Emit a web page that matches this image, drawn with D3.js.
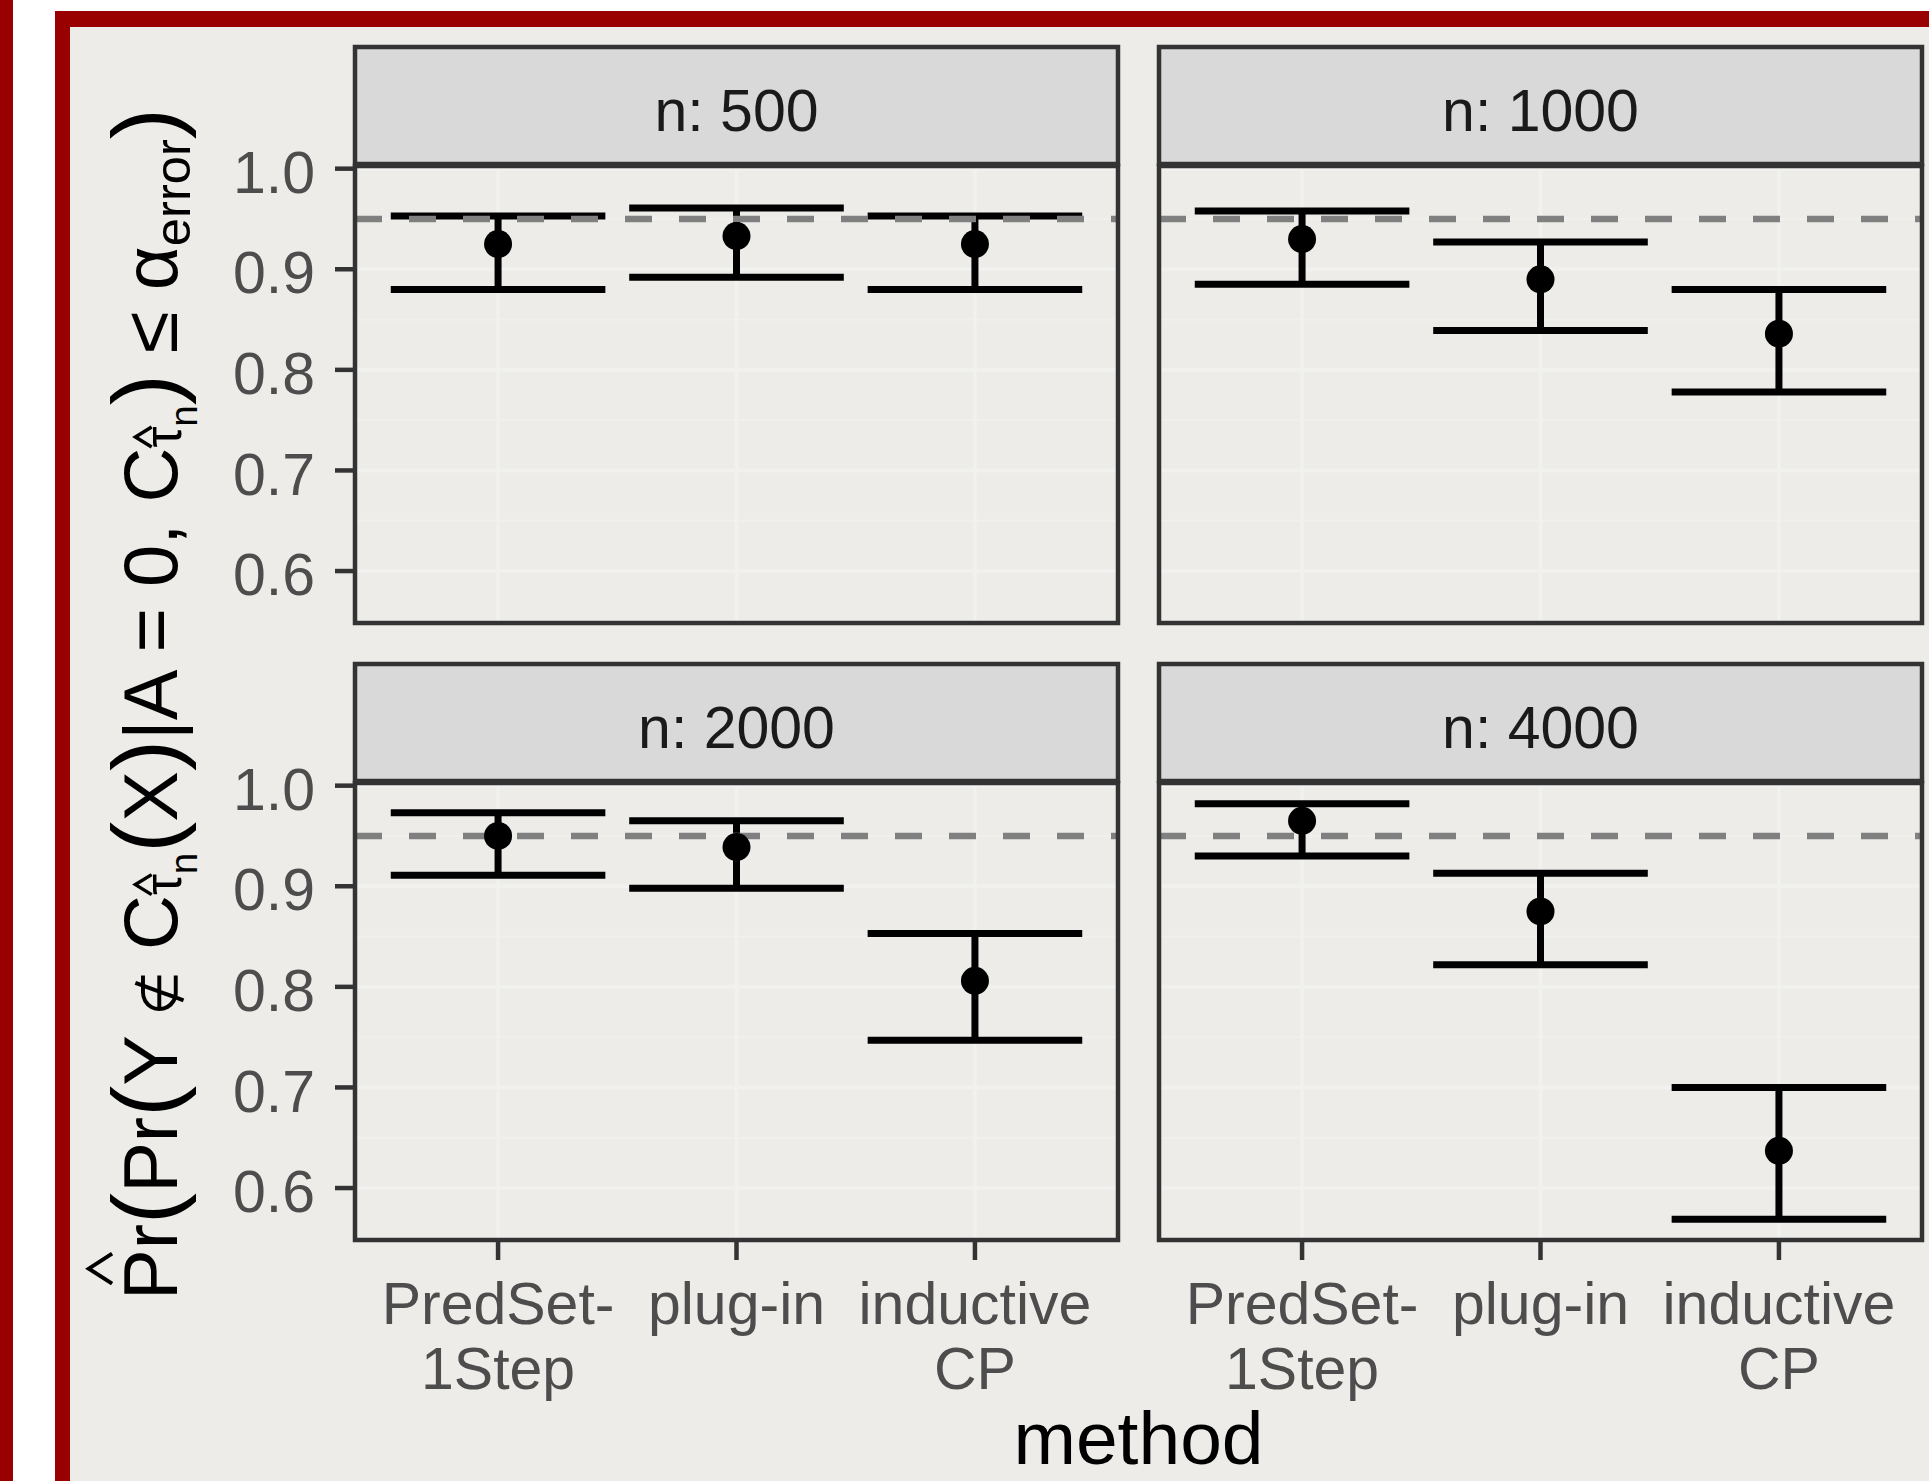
<!DOCTYPE html>
<html><head><meta charset="utf-8">
<script src="https://cdn.jsdelivr.net/npm/d3@7"></script>
<style>html,body{margin:0;padding:0;background:#fff;overflow:hidden} svg{display:block}</style>
</head><body><svg id="c" width="1929" height="1481"></svg>
<script>
// ---------------- data ----------------
const panelLabels = ["n: 500", "n: 1000", "n: 2000", "n: 4000"];
const methods = ["PredSet-1Step", "plug-in", "inductive CP"];
const methodLines = [["PredSet-", "1Step"], ["plug-in"], ["inductive", "CP"]];
const estimate = [[0.925, 0.933, 0.925], [0.930, 0.890, 0.836], [0.950, 0.939, 0.806], [0.965, 0.875, 0.637]];
const lower    = [[0.880, 0.892, 0.880], [0.885, 0.839, 0.778], [0.911, 0.898, 0.747], [0.930, 0.822, 0.569]];
const upper    = [[0.953, 0.961, 0.953], [0.958, 0.927, 0.880], [0.973, 0.965, 0.853], [0.982, 0.913, 0.700]];
const targetLevel = 0.95;
const yTicks = [0.6, 0.7, 0.8, 0.9, 1.0];
const yMinorTicks = [0.55, 0.65, 0.75, 0.85, 0.95];
const xTitle = "method";

// ---------------- layout ----------------
const F = "'Liberation Sans', Arial, Helvetica, sans-serif";
const svg = d3.select("#c");
const BG = "#EDECE8", RED = "#990000";
const colX = [355, 1159], panelW = 763;
const stripTop = [47, 664], stripH = 119, panelH = 457;
const tickFs = 59;

// frame
svg.append("rect").attr("x", 0).attr("y", 0).attr("width", 1929).attr("height", 1481).attr("fill", "#fff");
svg.append("rect").attr("x", 0).attr("y", 0).attr("width", 13).attr("height", 1481).attr("fill", RED);
svg.append("rect").attr("x", 55).attr("y", 11).attr("width", 1900).attr("height", 1500).attr("fill", RED);
svg.append("rect").attr("x", 70).attr("y", 27).attr("width", 1900).attr("height", 1500).attr("fill", BG);

// scales
const allLo = d3.min(lower.flat()), allHi = d3.max(upper.flat());
const r = allHi - allLo;
const y = d3.scaleLinear().domain([allLo - 0.05 * r, allHi + 0.05 * r]).range([panelH, 0]);
const x = d3.scalePoint().domain(methods).range([0, panelW]).padding(0.6);
const barHalf = x.step() * 0.9 / 2;

panelLabels.forEach((lab, i) => {
  const col = i % 2, row = Math.floor(i / 2);
  const px = colX[col], st = stripTop[row], py = st + stripH;
  const g = svg.append("g").attr("transform", `translate(${px},${py})`);

  // grid
  g.selectAll(".minor").data(yMinorTicks.filter(v => v >= y.domain()[0] && v <= y.domain()[1])).join("line")
    .attr("x1", 0).attr("x2", panelW).attr("y1", d => y(d)).attr("y2", d => y(d))
    .attr("stroke", "#F0F0EE").attr("stroke-width", 1.8);
  g.selectAll(".major").data(yTicks).join("line")
    .attr("x1", 0).attr("x2", panelW).attr("y1", d => y(d)).attr("y2", d => y(d))
    .attr("stroke", "#F1F1F0").attr("stroke-width", 3.5);
  g.selectAll(".vmajor").data(methods).join("line")
    .attr("x1", d => x(d)).attr("x2", d => x(d)).attr("y1", 0).attr("y2", panelH)
    .attr("stroke", "#F1F1F0").attr("stroke-width", 3.5);

  // error bars
  const rows = methods.map((m, j) => ({m, est: estimate[i][j], lo: lower[i][j], hi: upper[i][j]}));
  g.selectAll(".eb").data(rows).join("path")
    .attr("d", d => `M${x(d.m) - barHalf},${y(d.hi)}H${x(d.m) + barHalf}M${x(d.m)},${y(d.hi)}V${y(d.lo)}M${x(d.m) - barHalf},${y(d.lo)}H${x(d.m) + barHalf}`)
    .attr("fill", "none").attr("stroke", "#000").attr("stroke-width", 7);

  // reference line
  g.append("line").attr("x1", 0).attr("x2", panelW).attr("y1", y(targetLevel)).attr("y2", y(targetLevel))
    .attr("stroke", "#808080").attr("stroke-width", 6.5).attr("stroke-dasharray", "27 27");

  // points
  g.selectAll(".pt").data(rows).join("circle")
    .attr("cx", d => x(d.m)).attr("cy", d => y(d.est)).attr("r", 14).attr("fill", "#000");

  // panel border
  g.append("rect").attr("x", 0).attr("y", 0).attr("width", panelW).attr("height", panelH)
    .attr("fill", "none").attr("stroke", "#333333").attr("stroke-width", 4.5);

  // strip
  svg.append("rect").attr("x", px).attr("y", st).attr("width", panelW).attr("height", stripH - 2)
    .attr("fill", "#D9D9D9").attr("stroke", "#333333").attr("stroke-width", 4.5);
  svg.append("text").attr("x", px + panelW / 2).attr("y", st + stripH / 2 + 0.41 * tickFs)
    .attr("text-anchor", "middle").attr("font-family", F).attr("font-size", tickFs)
    .attr("fill", "#1A1A1A").text(lab);

  // y axis
  if (col === 0) {
    const ya = g.append("g");
    ya.selectAll("line").data(yTicks).join("line")
      .attr("x1", -20).attr("x2", 0).attr("y1", d => y(d)).attr("y2", d => y(d))
      .attr("stroke", "#333333").attr("stroke-width", 4.5);
    ya.selectAll("text").data(yTicks).join("text")
      .attr("x", -40).attr("y", d => y(d)).attr("dy", "0.41em")
      .attr("text-anchor", "end").attr("font-family", F).attr("font-size", tickFs)
      .attr("fill", "#4D4D4D").text(d => d3.format(".1f")(d));
  }
  // x axis
  if (row === 1) {
    const xa = g.append("g").attr("transform", `translate(0,${panelH})`);
    xa.selectAll("line").data(methods).join("line")
      .attr("x1", d => x(d)).attr("x2", d => x(d)).attr("y1", 0).attr("y2", 20)
      .attr("stroke", "#333333").attr("stroke-width", 4.5);
    const tx = xa.selectAll("text").data(methods).join("text")
      .attr("text-anchor", "middle").attr("font-family", F).attr("font-size", tickFs).attr("fill", "#4D4D4D");
    tx.each(function (d, j) {
      methodLines[j].forEach((ln, k) => {
        d3.select(this).append("tspan").attr("x", x(d)).attr("y", 84 + k * 65).text(ln);
      });
    });
  }
});

// x title
svg.append("text").attr("x", (colX[0] + colX[1] + panelW) / 2).attr("y", 1464)
  .attr("text-anchor", "middle").attr("font-family", F).attr("font-size", 75).attr("fill", "#000").text(xTitle);

// y title (plotmath-like)
const titlePieces = [
  {s: "P", fs: 75, hat: "big"},
  {s: "r", fs: 75},
  {s: "(", fs: 92},
  {s: "Pr", fs: 75},
  {s: "(", fs: 92},
  {s: "Y ", fs: 75},
  {s: "\u2209", fs: 50, ff: "'DejaVu Sans', sans-serif"},
  {s: " C", fs: 75},
  {s: "\u03C4", fs: 52, sh: 4, hat: "small"},
  {s: "n", fs: 38, sh: 20},
  {s: "(", fs: 92},
  {s: "X", fs: 75},
  {s: ")", fs: 92},
  {s: "|A = 0, C", fs: 75},
  {s: "\u03C4", fs: 52, sh: 4, hat: "small"},
  {s: "n", fs: 38, sh: 20},
  {s: ")", fs: 92},
  {s: " \u2264 ", fs: 75},
  {s: "\u03B1", fs: 75},
  {s: "error", fs: 50, sh: 13},
  {s: ")", fs: 92}
];
const tg = svg.append("g").attr("transform", "translate(177,1300) rotate(-90)");
function buildTitle(k) {
  tg.selectAll("*").remove();
  const t = tg.append("text").attr("x", 0).attr("y", 0).attr("font-family", F).attr("fill", "#000")
    .style("white-space", "pre");
  let prev = 0;
  titlePieces.forEach(p => {
    const sh = (p.sh || 0) * k;
    const ts = t.append("tspan").attr("font-size", p.fs * k).attr("dy", sh - prev).text(p.s);
    if (p.ff) ts.attr("font-family", p.ff);
    prev = sh;
  });
  return t;
}
let tt = buildTitle(1);
const target = 1192;
let kk = target / tt.node().getComputedTextLength();
tt = buildTitle(kk);
kk = kk * target / tt.node().getComputedTextLength();
tt = buildTitle(kk);
// hats
let ci = 0;
titlePieces.forEach(p => {
  if (p.hat) {
    const e = tt.node().getExtentOfChar(ci);
    const cx = e.x + e.width / 2;
    if (p.hat === "big") {
      const c = cx + 6;
      tg.append("path").attr("d", `M${c - 15},${-64 * kk}L${c},${-87 * kk}L${c + 15},${-64 * kk}`)
        .attr("fill", "none").attr("stroke", "#000").attr("stroke-width", 4);
    } else {
      tg.append("path").attr("d", `M${cx - 10},${-25 * kk}L${cx},${-41 * kk}L${cx + 10},${-25 * kk}`)
        .attr("fill", "none").attr("stroke", "#000").attr("stroke-width", 3.5);
    }
  }
  ci += p.s.length;
});
</script>
</body></html>
